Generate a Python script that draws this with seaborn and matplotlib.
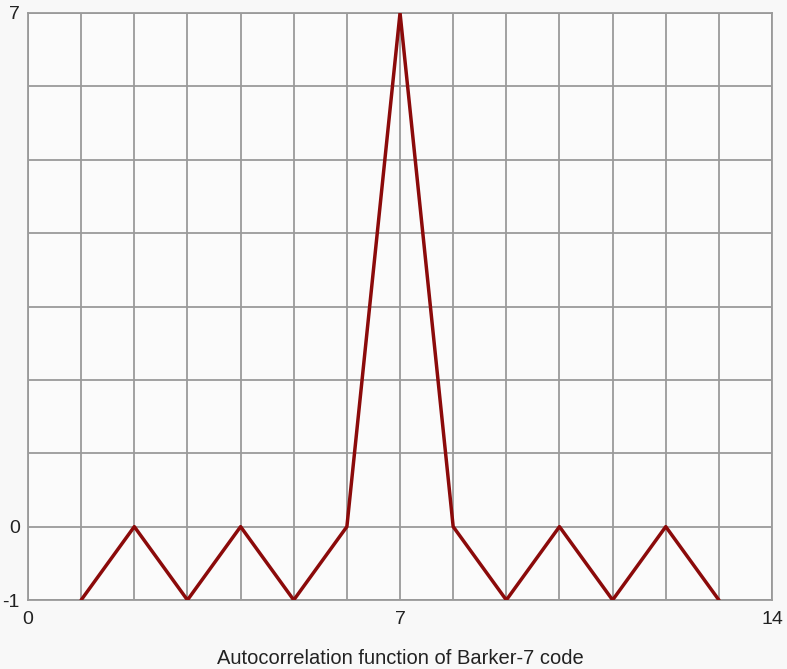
import numpy as np
import pandas as pd
import matplotlib
matplotlib.use('Agg')
import matplotlib.pyplot as plt
import seaborn as sns

# data: autocorrelation of Barker-7 code
lag = [1, 2, 3, 4, 5, 6, 7, 8, 9, 10, 11, 12, 13]
acf = [-1, 0, -1, 0, -1, 0, 7, 0, -1, 0, -1, 0, -1]
xticks = [0, 7, 14]
yticks = [-1, 0, 7]
title = 'Autocorrelation function of Barker-7 code'

df = pd.DataFrame({'lag': lag, 'acf': acf})

sns.set_style('white')
plt.rcParams['font.family'] = ['Liberation Sans', 'DejaVu Sans']

fig = plt.figure(figsize=(7.87, 6.69), dpi=100)
fig.patch.set_facecolor('#f8f8f8')
ax = fig.add_axes([0.0356, 0.1031, 0.9454, 0.8775])
ax.set_facecolor('#fbfbfb')

# grid lines at every integer
for gx in range(0, 15):
    ax.axvline(gx, color='#9a9a9a', lw=1.3, zorder=1)
for gy in range(-1, 8):
    ax.axhline(gy, color='#9a9a9a', lw=1.3, zorder=1)

sns.lineplot(data=df, x='lag', y='acf', ax=ax, color='#8b0a0a', lw=2.5, zorder=3)

ax.set_xlim(0, 14)
ax.set_ylim(-1, 7)
ax.set_xticks(xticks)
ax.set_yticks(yticks)
ax.set_xticklabels([str(t) for t in xticks])
ax.set_yticklabels([str(t) for t in yticks])
ax.tick_params(length=0, labelsize=14, colors='#222222')
ax.tick_params(axis='x', pad=8)
ax.tick_params(axis='y', pad=6)
ax.set_xlabel(title, fontsize=14.5, color='#222222', labelpad=15)
ax.set_ylabel('')
for s in ax.spines.values():
    s.set_color('#9a9a9a')
    s.set_linewidth(1.3)

fig.savefig('out.png', dpi=100, facecolor=fig.get_facecolor())
